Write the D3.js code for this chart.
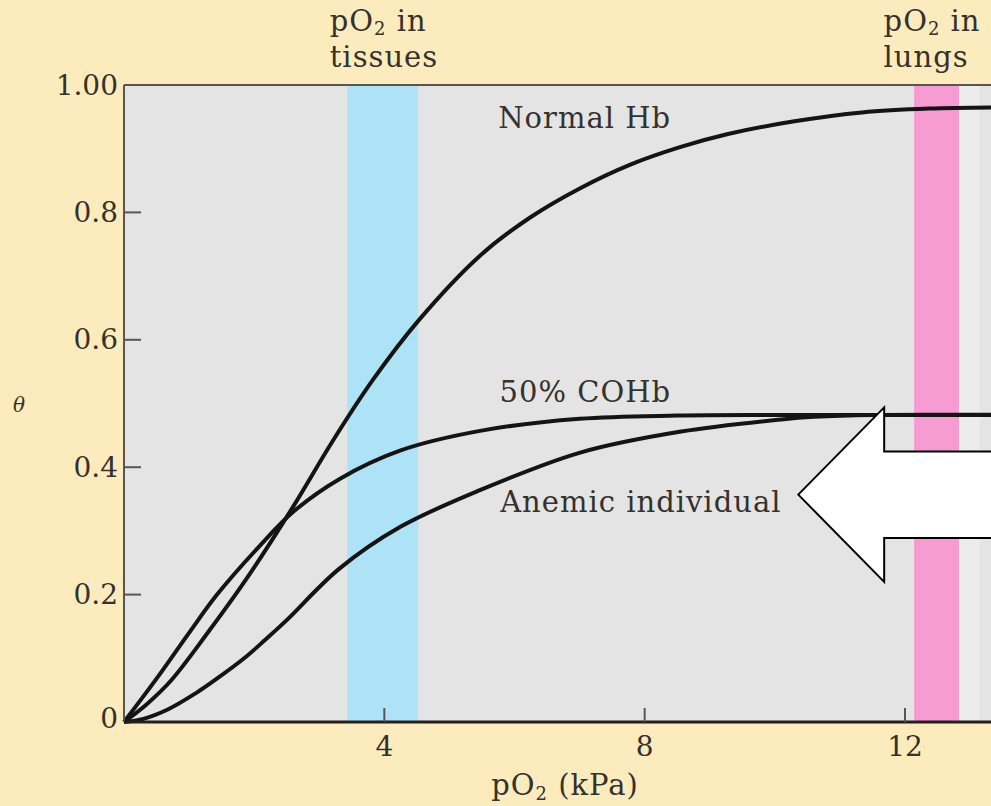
<!DOCTYPE html>
<html>
<head>
<meta charset="utf-8">
<script src="https://cdn.jsdelivr.net/npm/d3@7"></script>
<style>
  body { margin: 0; background: #fcecbd; }
  svg { display: block; }
  text { font-family: "DejaVu Serif", serif; fill: #35312c; }
</style>
</head>
<body>
<div id="chart"></div>
<script>
// oxygen binding curves, theta vs pO2 (kPa)
const normalHb = [[0,0],[0.35,0.028],[0.73,0.066],[1.3,0.142],[1.87,0.223],[2.58,0.335],[3.2,0.44],[3.81,0.535],[4.54,0.632],[5.47,0.732],[6.24,0.792],[7.01,0.838],[7.78,0.875],[8.53,0.902],[9.28,0.923],[10.3,0.943],[11.34,0.957],[12.37,0.963],[13.6,0.965]];
const coHb = [[0,0],[0.5,0.068],[1.0,0.14],[1.43,0.2],[2.09,0.277],[2.6,0.33],[3.32,0.382],[4.24,0.426],[5.47,0.457],[7.0,0.476],[8.5,0.481],[10,0.482],[13.6,0.482]];
const anemic = [[0,0],[0.3,0.005],[0.68,0.02],[1.1,0.045],[1.4,0.066],[1.87,0.102],[2.18,0.13],[2.5,0.16],[3.3,0.24],[4.24,0.306],[5.47,0.364],[7.01,0.423],[8.56,0.456],[10.1,0.475],[10.6,0.479],[11.5,0.482],[13.6,0.482]];

const curveLabels = [
  { text: "Normal Hb", x: 5.75, y: 0.932 },
  { text: "50% COHb", x: 5.77, y: 0.502 },
  { text: "Anemic individual", x: 5.78, y: 0.329 }
];

// shaded pO2 ranges
const bands = [
  { name: "tissues", from: 3.43, to: 4.52, color: "#aee2f6" },
  { name: "lungs", from: 12.14, to: 12.83, color: "#f79bd3" }
];

const xTicks = [4, 8, 12];
const yTicks = [0.2, 0.4, 0.6, 0.8];
const yTickLabels = ["0", "0.2", "0.4", "0.6", "0.8", "1.00"];

// big annotation arrow (pointing left), in data units
const arrowPts = [[10.36,0.357],[11.68,0.494],[11.68,0.4245],[14,0.4245],[14,0.289],[11.68,0.289],[11.68,0.22]];

const width = 991, height = 806;
const svg = d3.select("#chart").append("svg")
    .attr("width", width)
    .attr("height", height);

const x = d3.scaleLinear().domain([0, 12]).range([124, 905]);
const y = d3.scaleLinear().domain([0, 1]).range([722, 85]);

// plot background
svg.append("rect")
    .attr("x", x(0))
    .attr("y", y(1))
    .attr("width", width - x(0))
    .attr("height", y(0) - y(1))
    .attr("fill", "#e4e4e4");

// bands
svg.selectAll(".band")
    .data(bands)
    .enter()
    .append("rect")
    .attr("class", "band")
    .attr("x", d => x(d.from))
    .attr("y", y(1))
    .attr("width", d => x(d.to) - x(d.from))
    .attr("height", y(0) - y(1))
    .attr("fill", d => d.color);

// faint light strip next to the lungs band
svg.append("rect")
    .attr("x", x(12.83))
    .attr("y", y(1))
    .attr("width", x(13.15) - x(12.83))
    .attr("height", y(0) - y(1))
    .attr("fill", "#ececec");

// band labels on top
bands.forEach(b => {
  const lx = x((b.from + b.to) / 2) - 53;
  const t = svg.append("text")
      .attr("x", lx)
      .attr("y", 31)
      .style("font-size", "29px")
      .style("letter-spacing", "1px");
  t.append("tspan").text("pO");
  t.append("tspan").attr("dy", 4).style("font-size", "18px").text("2");
  t.append("tspan").attr("dy", -4).text(" in");
  svg.append("text")
      .attr("x", lx)
      .attr("y", 67)
      .style("font-size", "29px")
      .style("letter-spacing", "1px")
      .text(b.name);
});

const line = d3.line()
    .x(d => x(d[0]))
    .y(d => y(d[1]))
    .curve(d3.curveCatmullRom.alpha(0.5));

svg.selectAll(".curve")
    .data([normalHb, coHb, anemic])
    .enter()
    .append("path")
    .attr("class", "curve")
    .attr("d", line)
    .attr("fill", "none")
    .attr("stroke", "#141414")
    .attr("stroke-width", 4)
    .attr("stroke-linejoin", "round");

// top border and left axis
svg.append("line")
    .attr("x1", x(0)).attr("x2", width)
    .attr("y1", y(1)).attr("y2", y(1))
    .attr("stroke", "#5a5550").attr("stroke-width", 2);
svg.append("line")
    .attr("x1", x(0)).attr("x2", x(0))
    .attr("y1", y(1)).attr("y2", y(0))
    .attr("stroke", "#5a5550").attr("stroke-width", 2);

// y ticks point into the plot
svg.selectAll(".ytick")
    .data(yTicks)
    .enter()
    .append("line")
    .attr("x1", x(0)).attr("x2", x(0) + 17)
    .attr("y1", d => y(d)).attr("y2", d => y(d))
    .attr("stroke", "#5a5550").attr("stroke-width", 2);

svg.selectAll(".ylab")
    .data([0, 0.2, 0.4, 0.6, 0.8, 1])
    .enter()
    .append("text")
    .attr("x", x(0) - 6)
    .attr("y", d => y(d) + (d === 0 ? -4 : 0))
    .attr("text-anchor", "end")
    .attr("dominant-baseline", "central")
    .style("font-size", "28px")
    .text((d, i) => yTickLabels[i]);

// bottom axis
svg.append("line")
    .attr("x1", x(0)).attr("x2", width)
    .attr("y1", y(0)).attr("y2", y(0))
    .attr("stroke", "#231f1c").attr("stroke-width", 3);

svg.selectAll(".xtick")
    .data(xTicks)
    .enter()
    .append("line")
    .attr("x1", d => x(d)).attr("x2", d => x(d))
    .attr("y1", y(0)).attr("y2", y(0) - 14)
    .attr("stroke", "#5a5550").attr("stroke-width", 2);

svg.selectAll(".xlab")
    .data(xTicks)
    .enter()
    .append("text")
    .attr("x", d => x(d))
    .attr("y", 756)
    .attr("text-anchor", "middle")
    .style("font-size", "28px")
    .text(d => d);

// axis titles
const xt = svg.append("text")
    .attr("x", 565)
    .attr("y", 795)
    .attr("text-anchor", "middle")
    .style("font-size", "29px")
    .style("letter-spacing", "1px");
xt.append("tspan").text("pO");
xt.append("tspan").attr("dy", 5).style("font-size", "18px").text("2");
xt.append("tspan").attr("dy", -5).text(" (kPa)");

svg.append("text")
    .attr("x", 19)
    .attr("y", 412)
    .attr("text-anchor", "middle")
    .style("font-size", "20px")
    .style("font-style", "italic")
    .text("θ");

// curve labels
svg.selectAll(".clab")
    .data(curveLabels)
    .enter()
    .append("text")
    .attr("x", d => x(d.x))
    .attr("y", d => y(d.y))
    .style("font-size", "29px")
    .style("letter-spacing", "1px")
    .text(d => d.text);

// arrow
svg.append("polygon")
    .attr("points", arrowPts.map(p => [x(p[0]), y(p[1])].join(",")).join(" "))
    .attr("fill", "#ffffff")
    .attr("stroke", "#000")
    .attr("stroke-width", 2)
    .attr("stroke-linejoin", "miter");
</script>
</body>
</html>
